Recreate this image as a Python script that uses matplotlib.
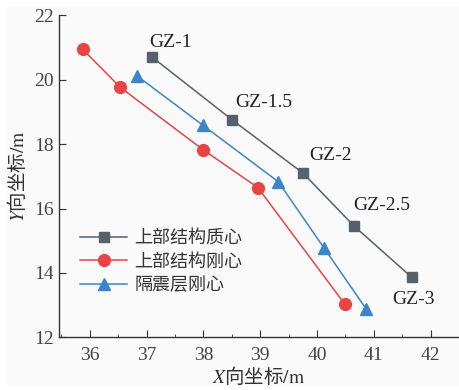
import numpy as np
import matplotlib
matplotlib.use("Agg")
import matplotlib.pyplot as plt
from matplotlib.ticker import MultipleLocator

plt.rcParams['font.family'] = ['Liberation Serif', 'Noto Sans CJK SC']
plt.rcParams['mathtext.fontset'] = 'stix'

# data
mass_x = [37.10, 38.51, 39.76, 40.65, 41.67]
mass_y = [20.70, 18.75, 17.09, 15.46, 13.86]
stiff_x = [35.88, 36.54, 38.00, 38.96, 40.49]
stiff_y = [20.94, 19.76, 17.82, 16.65, 13.03]
iso_x = [36.84, 37.99, 39.32, 40.13, 40.87]
iso_y = [20.11, 18.59, 16.83, 14.76, 12.87]
labels = ['GZ-1', 'GZ-1.5', 'GZ-2', 'GZ-2.5', 'GZ-3']
label_x = [37.05, 38.56, 39.86, 40.64, 41.32]
label_y = [21.14, 19.28, 17.66, 16.08, 13.16]
names = ['上部结构质心', '上部结构刚心', '隔震层刚心']

fig = plt.figure(figsize=(4.59, 3.90), dpi=100)
fig.patches.append(plt.Rectangle((7/459, 5/390), 1, 1 - 12/390,
                                 transform=fig.transFigure, color='#fafafa', zorder=-10))
ax = fig.add_axes([59/459, 52.7/390, 1 - 59/459, 322/390])
ax.set_facecolor('none')

ax.plot(mass_x, mass_y, '-s', color='#56616a', lw=1.1, ms=7.5, label=names[0])
ax.plot(stiff_x, stiff_y, '-o', color='#e84444', lw=1.1, ms=8.5, label=names[1])
ax.plot(iso_x, iso_y, '-^', color='#3a86c8', lw=1.1, ms=9, label=names[2])

for t, x, y in zip(labels, label_x, label_y):
    ax.text(x, y, t, fontsize=14, va='center', ha='left', color='#222222')

ax.set_xlim(35.46, 42.5)
ax.set_ylim(12, 22)
ax.xaxis.set_major_locator(MultipleLocator(1))
ax.xaxis.set_minor_locator(MultipleLocator(0.5))
ax.yaxis.set_major_locator(MultipleLocator(2))
ax.tick_params(axis='both', which='both', direction='in', labelsize=14,
               colors='#333333', labelcolor='#444444')
ax.tick_params(which='major', length=5)
ax.tick_params(which='minor', length=2.5)
ax.tick_params(axis='x', pad=7)
ax.spines['top'].set_visible(False)
ax.spines['right'].set_visible(False)
for s in ['left', 'bottom']:
    ax.spines[s].set_color('#333333')
    ax.spines[s].set_linewidth(1.0)

ax.set_xlabel(r'$X$向坐标$\mathrm{/m}$', fontsize=14, color='#333333', labelpad=1,
              family='Noto Sans CJK SC')
ax.set_ylabel(r'$Y$向坐标$\mathrm{/m}$', fontsize=14, color='#333333', labelpad=4,
              family='Noto Sans CJK SC')

leg = ax.legend(loc='upper left', bbox_to_anchor=(0.035, 0.355), frameon=False,
                fontsize=13, handlelength=2.6, handletextpad=0.4, labelspacing=0.35,
                borderaxespad=0)
for t in leg.get_texts():
    t.set_color('#333333')

fig.savefig('out.png', dpi=100, facecolor='white')
